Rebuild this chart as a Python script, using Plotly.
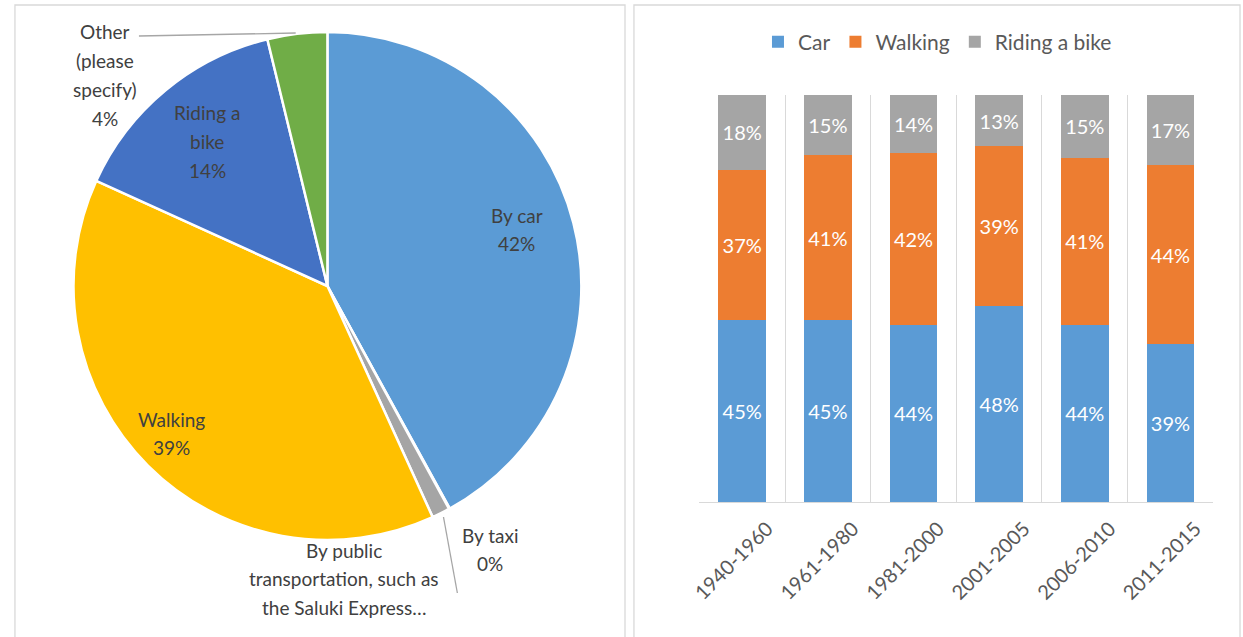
import plotly.graph_objects as go

W, H = 1243, 637

# ---- Pie data ----
pie_labels = ["By car", "By taxi", "By public transportation, such as the Saluki Express…",
              "Walking", "Riding a bike", "Other (please specify)"]
pie_values = [42.0, 0.05, 1.15, 38.6, 14.4, 3.8]
pie_colors = ["#5B9BD5", "#ED7D31", "#A5A5A5", "#FFC000", "#4472C4", "#70AD47"]

# ---- Bar data ----
periods = ["1940-1960", "1961-1980", "1981-2000", "2001-2005", "2006-2010", "2011-2015"]
car = [44.8, 44.6, 43.6, 48.1, 43.6, 38.7]
walking = [36.8, 40.7, 42.2, 39.3, 41.0, 44.2]
bike = [18.4, 14.7, 14.2, 12.6, 15.4, 17.1]
bar_colors = {"Car": "#5B9BD5", "Walking": "#ED7D31", "Riding a bike": "#A5A5A5"}

FONT = "Lato"
TXT = "#404040"


def px(x, y):
    return x / W, 1 - y / H


fig = go.Figure()

# Pie domain from pixel geometry (centre ~(320,286), r ~256)
cx, cy, r = 320, 286, 256
fig.add_trace(go.Pie(
    labels=pie_labels, values=pie_values, sort=False, direction="clockwise", rotation=0,
    marker=dict(colors=pie_colors, line=dict(color="white", width=2.5)),
    textinfo="none", hoverinfo="label+percent", showlegend=False,
    domain=dict(x=[(cx - r) / W, (cx + r) / W], y=[1 - (cy + r) / H, 1 - (cy - r) / H]),
))

# Stacked bars
for name, vals in [("Car", car), ("Walking", walking), ("Riding a bike", bike)]:
    fig.add_trace(go.Bar(
        x=periods, y=vals, name=name, marker=dict(color=bar_colors[name], line=dict(width=0)),
        texttemplate="%{y:.0f}%", textposition="inside", insidetextanchor="middle",
        textangle=0, constraintext="none",
        textfont=dict(family=FONT, size=20, color="white"),
        xaxis="x", yaxis="y",
    ))

annotations = []


def label(xc, y0, lines, step=28.7):
    for i, t in enumerate(lines):
        ax, ay = px(xc, y0 + i * step)
        annotations.append(dict(x=ax, y=ay, xref="paper", yref="paper", text=t, showarrow=False,
                                xanchor="center", yanchor="middle",
                                font=dict(family=FONT, size=19, color=TXT)))


pct = [f"{round(v)}%" for v in pie_values]
label(511, 215, ["By car", pct[0]])
label(484, 535, ["By taxi", pct[1]])
label(337, 550, ["By public", "transportation, such as", "the Saluki Express…"])
label(163, 419, ["Walking", pct[3]])
label(199, 113, ["Riding a", "bike", pct[4]])
label(96, 32, ["Other", "(please", "specify)", pct[5]])

shapes = []
# panel borders
for x0, x1 in [(5, 620), (629, 1240)]:
    a0, b0 = px(x0, 660)
    a1, b1 = px(x1, 5)
    shapes.append(dict(type="rect", xref="paper", yref="paper", x0=a0, y0=b0, x1=a1, y1=b1,
                       line=dict(color="#D9D9D9", width=1.3), fillcolor="rgba(0,0,0,0)", layer="below"))
# leader lines
for (xa, ya), (xb, yb) in [((130, 36), (288, 33)), ((437, 517), (451, 593))]:
    a0, b0 = px(xa, ya)
    a1, b1 = px(xb, yb)
    shapes.append(dict(type="line", xref="paper", yref="paper", x0=a0, y0=b0, x1=a1, y1=b1,
                       line=dict(color="#A6A6A6", width=1.3)))

fig.update_layout(
    width=W, height=H, margin=dict(l=0, r=0, t=0, b=0),
    paper_bgcolor="white", plot_bgcolor="white",
    barmode="stack", bargap=0.444,
    font=dict(family=FONT, color="#595959"),
    xaxis=dict(domain=[695 / W, 1213 / W], tickson="boundaries", showgrid=True, gridcolor="#D9D9D9",
               gridwidth=1, showline=True, linecolor="#D9D9D9", linewidth=1.3, ticks="",
               tickangle=-45, tickfont=dict(family=FONT, size=20, color="#595959"),
               ticklabelshift=25, ticklabelstandoff=6, zeroline=False),
    yaxis=dict(domain=[1 - 502 / H, 1 - 95 / H], range=[0, 100], visible=False),
    legend=dict(orientation="h", x=935 / W, xanchor="center", y=1 - 42 / H, yanchor="middle",
                font=dict(family=FONT, size=21, color="#595959"), traceorder="normal",
                itemwidth=30),
    annotations=annotations, shapes=shapes,
    uniformtext=dict(mode=False),
)

fig.write_html("out.html", config={"displayModeBar": False},
               post_script="document.body.style.margin='0px';document.body.style.overflow='hidden';")
